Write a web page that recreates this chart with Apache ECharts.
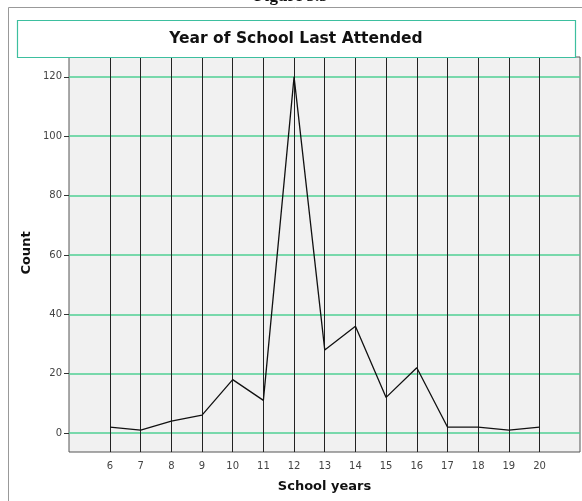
<!DOCTYPE html>
<html>
<head>
<meta charset="utf-8">
<script src="https://cdn.jsdelivr.net/npm/echarts@6/dist/echarts.min.js"></script>
<style>
html,body{margin:0;padding:0;background:#fff;}
#chart{width:582px;height:501px;}
</style>
</head>
<body>
<div id="chart"></div>
<script>
const schoolYears = [6, 7, 8, 9, 10, 11, 12, 13, 14, 15, 16, 17, 18, 19, 20];
const counts = [2, 1, 4, 6, 18, 11, 120, 28, 36, 12, 22, 2, 2, 1, 2];
const yTicks = [0, 20, 40, 60, 80, 100, 120];
const titleText = 'Year of School Last Attended';
const xName = 'School years';
const yName = 'Count';

const chart = echarts.init(document.getElementById('chart'), null, {renderer: 'canvas'});
const labelFont = {fontFamily: 'DejaVu Sans', fontSize: 10, color: '#444'};

chart.setOption({
  animation: false,
  backgroundColor: '#ffffff',
  grid: {
    left: 69, top: 57, right: 2, bottom: 49,
    show: true, backgroundColor: '#f1f1f1', borderColor: '#555', borderWidth: 1
  },
  xAxis: {
    type: 'value', min: 4.664, max: 21.32,
    axisLine: {show: false},
    splitLine: {show: false},
    axisTick: {show: true, customValues: schoolYears, length: 6, lineStyle: {color: '#222'}},
    axisLabel: Object.assign({customValues: schoolYears, margin: 9}, labelFont)
  },
  yAxis: {
    type: 'value', min: -6.4, max: 126.7,
    axisLine: {show: false},
    splitLine: {show: false},
    axisTick: {show: true, customValues: yTicks, length: 5, lineStyle: {color: '#333'}},
    axisLabel: Object.assign({customValues: yTicks, margin: 7}, labelFont)
  },
  series: [
    {
      type: 'line', data: [], silent: true, z: 1,
      markLine: {
        silent: true, symbol: 'none', z: 1, label: {show: false},
        lineStyle: {color: '#4fcf93', width: 1.6, type: 'solid'},
        data: yTicks.map(v => ({yAxis: v}))
      }
    },
    {
      type: 'line', data: [], silent: true, z: 1,
      markLine: {
        silent: true, symbol: 'none', z: 1, label: {show: false},
        lineStyle: {color: '#222', width: 1, type: 'solid'},
        data: schoolYears.map(v => ({xAxis: v}))
      }
    },
    {
      type: 'line', z: 3,
      data: schoolYears.map((x, i) => [x, counts[i]]),
      showSymbol: false, symbol: 'none',
      lineStyle: {color: '#111', width: 1.3}
    }
  ],
  graphic: [
    {type: 'rect', z: 0, silent: true, shape: {x: 8.5, y: 7.5, width: 700, height: 700},
      style: {fill: null, stroke: '#999', lineWidth: 1}},
    {type: 'rect', z: 10, silent: true, shape: {x: 17.5, y: 20.5, width: 558, height: 37},
      style: {fill: '#ffffff', stroke: '#3dbf9f', lineWidth: 1.2}},
    {type: 'text', z: 11, silent: true, x: 296, y: 39,
      style: {text: titleText, font: 'bold 15.5px "DejaVu Sans"', fill: '#111', align: 'center', verticalAlign: 'middle'}},
    {type: 'text', z: 11, silent: true, x: 324.5, y: 487,
      style: {text: xName, font: 'bold 13px "DejaVu Sans"', fill: '#111', align: 'center', verticalAlign: 'middle'}},
    {type: 'text', z: 11, silent: true, x: 27, y: 253, rotation: Math.PI / 2,
      style: {text: yName, font: 'bold 13px "DejaVu Sans"', fill: '#111', align: 'center', verticalAlign: 'middle'}},
    {type: 'text', z: 11, silent: true, x: 291, y: -3,
      style: {text: 'Figure 3.3', font: 'bold 17px "Liberation Serif"', fill: '#111', align: 'center', verticalAlign: 'middle'}}
  ]
});
</script>
</body>
</html>
